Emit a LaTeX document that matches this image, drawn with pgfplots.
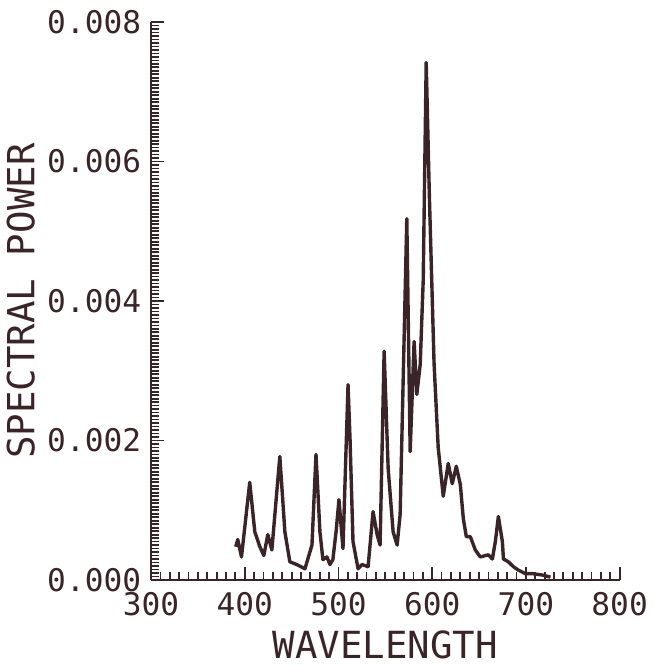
\documentclass[border=0pt]{standalone}
\usepackage{pgfplots}
\pgfplotsset{compat=1.18}
\usepackage{fontspec}
\setmainfont[Numbers=SlashedZero]{DejaVu Sans Mono}
\definecolor{ink}{HTML}{3A2428}

\pgfplotstableread{
nm     p
390.4  0.000475
392.5  0.00058
396.5  0.00033
405.3  0.00140
410.7  0.00069
416.0  0.00048
420.3  0.00035
424.6  0.00065
428.9  0.00043
437.4  0.00177
442.8  0.00069
448.1  0.00026
455.6  0.00022
464.2  0.00016
471.7  0.00050
476.0  0.00180
480.2  0.00069
483.4  0.00029
487.7  0.00033
490.9  0.00022
494.0  0.00029
497.5  0.00070
500.5  0.00115
504.8  0.00045
510.2  0.00280
512.3  0.00203
515.5  0.00055
520.9  0.00016
525.1  0.00022
531.6  0.00019
536.9  0.00098
541.2  0.00065
544.4  0.00050
548.7  0.00328
553.0  0.00160
558.3  0.00069
562.6  0.00050
565.8  0.00094
569.0  0.00285
572.9  0.00518
576.5  0.00184
580.7  0.00342
583.6  0.00266
587.2  0.00309
590.4  0.00429
593.6  0.00742
597.0  0.00550
602.0  0.00310
606.4  0.00190
611.8  0.00120
617.1  0.00167
621.4  0.00138
625.7  0.00163
630.0  0.00137
633.2  0.00088
636.4  0.00062
640.7  0.00062
646.0  0.00043
651.3  0.00033
659.9  0.00036
664.2  0.00030
667.4  0.00055
670.6  0.00091
674.9  0.00055
676.0  0.00030
681.3  0.00026
686.6  0.00019
692.0  0.00014
699.5  0.00009
707.0  0.00009
717.6  0.00007
726.2  0.00004
}\spectrum

\begin{document}
\begin{tikzpicture}
\begin{axis}[
  name=ax,
  scale only axis,
  width=233.5bp, height=278bp,
  xmin=300, xmax=800, ymin=0, ymax=0.008,
  axis lines=left,
  axis line style={-, ink, line width=1pt},
  xtick={300,400,...,800},
  ytick={0,0.002,...,0.008},
  minor x tick num=9,
  minor y tick num=39,
  tick align=inside,
  major tick length=6.5bp,
  minor tick length=4bp,
  every tick/.style={ink, line width=0.9pt},
  scaled y ticks=false,
  /pgf/number format/assume math mode=true,
  y tick label style={/pgf/number format/fixed, /pgf/number format/fixed zerofill, /pgf/number format/precision=3},
  xticklabel style={anchor=center, yshift=-12bp, font=\fontsize{15.6}{18}\selectfont, text=ink},
  yticklabel style={anchor=east, inner sep=0pt, xshift=-4.75bp, font=\fontsize{15.6}{18}\selectfont, text=ink},
  xlabel={WAVELENGTH},
  ylabel={SPECTRAL POWER},
  xlabel style={at={(axis description cs:0.5,-0.117)}, anchor=center, font=\fontsize{18.7}{22}\selectfont, text=ink},
  ylabel style={at={(axis description cs:-0.278,0.5)}, anchor=center, font=\fontsize{18.7}{22}\selectfont, text=ink},
  clip=false,
]
\addplot[ink, line width=1.7pt, line join=round] table[x=nm, y=p] {\spectrum};
\end{axis}
\path (ax.north west) ++(0,11bp);
\path (ax.south east) ++(16bp,0);
\end{tikzpicture}
\end{document}
